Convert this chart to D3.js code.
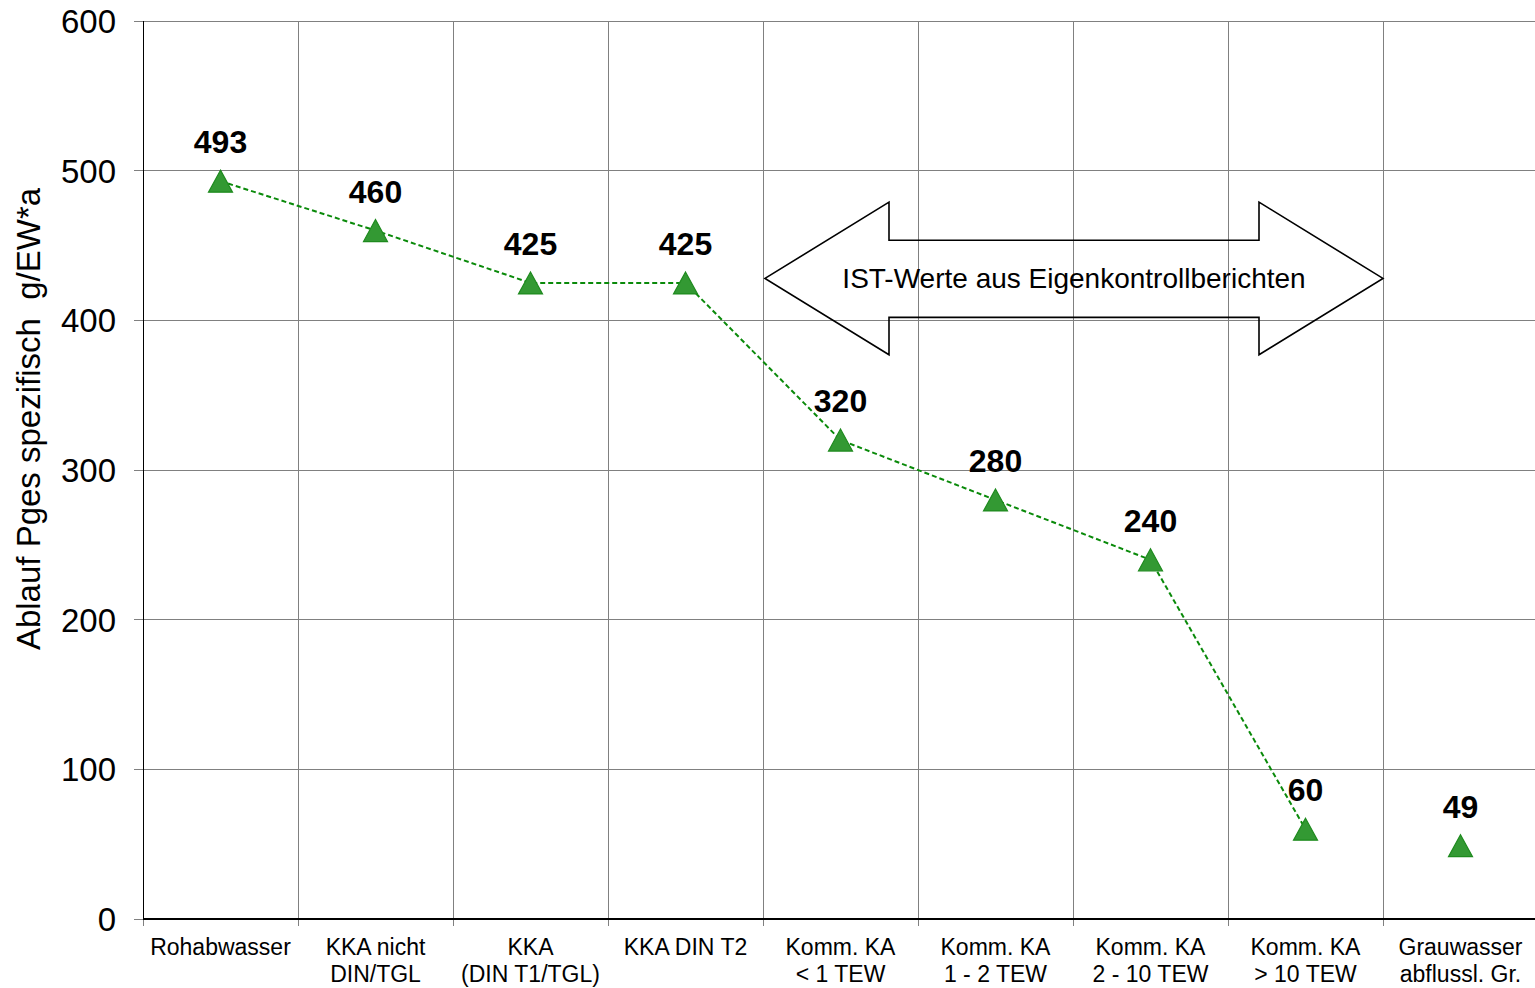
<!DOCTYPE html>
<html><head><meta charset="utf-8">
<script src="https://cdn.jsdelivr.net/npm/d3@7"></script>
<style>html,body{margin:0;padding:0;background:#fff;}svg{display:block;font-family:"Liberation Sans",Arial,sans-serif;}</style>
</head><body>
<svg id="c" width="1535" height="988"></svg>
<script>
const categories = [
  ["Rohabwasser"],
  ["KKA nicht","DIN/TGL"],
  ["KKA","(DIN T1/TGL)"],
  ["KKA DIN T2"],
  ["Komm. KA","< 1 TEW"],
  ["Komm. KA","1 - 2 TEW"],
  ["Komm. KA","2 - 10 TEW"],
  ["Komm. KA","> 10 TEW"],
  ["Grauwasser","abflussl. Gr."]
];
const values = [493, 460, 425, 425, 320, 280, 240, 60, 49];
const connected = [true, true, true, true, true, true, true, true, false];
const yTicks = [0, 100, 200, 300, 400, 500, 600];
const yTitle = "Ablauf Pges spezifisch\u00a0\u00a0g/EW*a";
const arrowText = "IST-Werte aus Eigenkontrollberichten";
const arrowFrom = 4, arrowTo = 7; // category span (inclusive)

const svg = d3.select("#c");
const L = 143, R = 1538, T = 21, B = 919;
const keys = categories.map((c,i)=>i);
const x = d3.scaleBand().domain(keys).range([L, R]).padding(0);
const y = d3.scaleLinear().domain([0, 600]).range([B, T]);
const grid = "#808080";

// horizontal gridlines + left ticks
svg.append("g").selectAll("line").data(yTicks.filter(t=>t>0)).join("line")
  .attr("x1", L - 9).attr("x2", R).attr("y1", d=>y(d)).attr("y2", d=>y(d))
  .attr("stroke", grid).attr("stroke-width", 1).attr("shape-rendering","crispEdges");
// vertical gridlines + bottom ticks
const bounds = keys.map(k=>x(k)).concat([R]);
svg.append("g").selectAll("line").data(bounds.slice(1)).join("line")
  .attr("x1", d=>d).attr("x2", d=>d).attr("y1", T).attr("y2", B + 7)
  .attr("stroke", grid).attr("stroke-width", 1).attr("shape-rendering","crispEdges");
svg.append("line").attr("x1", L).attr("x2", L).attr("y1", B).attr("y2", B + 7)
  .attr("stroke", grid).attr("shape-rendering","crispEdges");
svg.append("line").attr("x1", L - 9).attr("x2", L).attr("y1", B).attr("y2", B)
  .attr("stroke", grid).attr("shape-rendering","crispEdges");
// axes lines
svg.append("line").attr("x1", L).attr("x2", L).attr("y1", T).attr("y2", B)
  .attr("stroke", "#000").attr("stroke-width", 1).attr("shape-rendering","crispEdges");
svg.append("line").attr("x1", L).attr("x2", R).attr("y1", B).attr("y2", B)
  .attr("stroke", "#000").attr("stroke-width", 1.3).attr("shape-rendering","crispEdges");

// y tick labels
svg.append("g").selectAll("text").data(yTicks).join("text")
  .attr("x", 116).attr("y", d=>y(d)).attr("dy", "0.36em")
  .attr("text-anchor", "end").attr("font-size", 33).attr("fill", "#000")
  .text(d=>d);

// y title
svg.append("text")
  .attr("transform", `translate(40,419) rotate(-90)`)
  .attr("text-anchor", "middle").attr("font-size", 33).attr("fill", "#000")
  .text(yTitle);

// x labels
const xl = svg.append("g");
categories.forEach((lines, i) => {
  const t = xl.append("text").attr("text-anchor", "middle").attr("font-size", 23).attr("fill", "#000");
  lines.forEach((ln, j) => {
    t.append("tspan").attr("x", x(i) + x.bandwidth()/2).attr("y", 955 + j*27).text(ln);
  });
});

// arrow annotation
const ax0 = x(arrowFrom) + 2, ax1 = x(arrowTo) + x.bandwidth();
const headW = x.bandwidth() * 0.8;
const yc = y(428), yHt = y(479), yHb = y(377), ySt = y(453.5), ySb = y(402);
const arrowPts = [
  [ax0, yc], [ax0 + headW, yHt], [ax0 + headW, ySt], [ax1 - headW, ySt], [ax1 - headW, yHt],
  [ax1, yc], [ax1 - headW, yHb], [ax1 - headW, ySb], [ax0 + headW, ySb], [ax0 + headW, yHb]
];
svg.append("path").attr("d", d3.line()(arrowPts) + "Z")
  .attr("fill", "none").attr("stroke", "#000").attr("stroke-width", 1.6);
svg.append("text").attr("x", (ax0 + ax1)/2).attr("y", yc + 10)
  .attr("text-anchor", "middle").attr("font-size", 28).attr("fill", "#000").text(arrowText);

// dashed line
const pts = values.map((v,i)=>({i, v, c: connected[i]}));
const cx = d => x(d.i) + x.bandwidth()/2;
svg.append("path").datum(pts.filter(d=>d.c))
  .attr("d", d3.line().x(cx).y(d=>y(d.v)))
  .attr("fill", "none").attr("stroke", "#0a8a0a").attr("stroke-width", 2).attr("stroke-dasharray", "5,3");

// triangle markers
const tw = 12, th = 11;
const triPath = d3.line()([[0,-th],[tw,th],[-tw,th]]) + "Z";
svg.append("g").selectAll("path").data(pts).join("path")
  .attr("d", triPath).attr("transform", d=>`translate(${cx(d)},${y(d.v)})`)
  .attr("fill", "#339933").attr("stroke", "#1e8a1e").attr("stroke-width", 1.2);

// value labels
svg.append("g").selectAll("text").data(pts).join("text")
  .attr("x", cx).attr("y", d=>y(d.v) - 28)
  .attr("text-anchor", "middle").attr("font-size", 32).attr("font-weight", "bold").attr("fill", "#000")
  .text(d=>d.v);
</script>
</body></html>
